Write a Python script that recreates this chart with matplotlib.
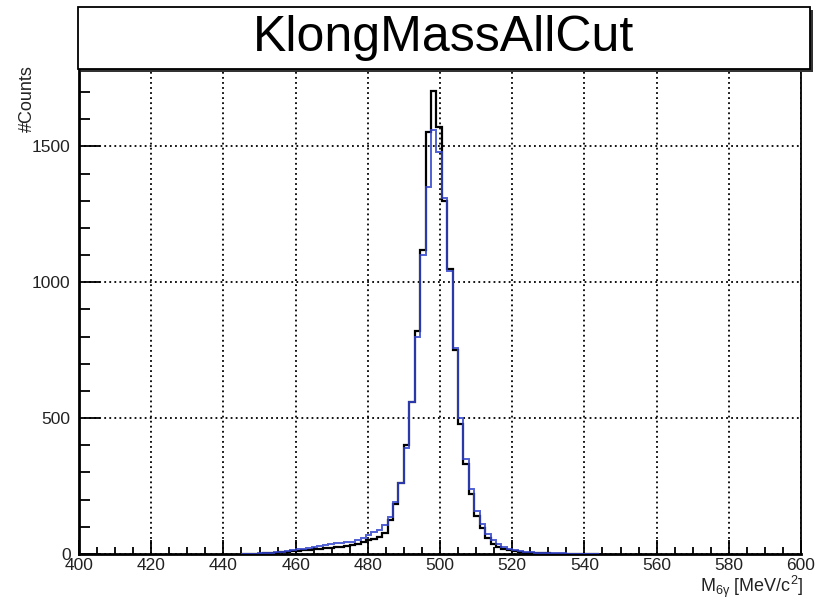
import numpy as np
import matplotlib
matplotlib.use("Agg")
import matplotlib.pyplot as plt
from matplotlib.patches import Rectangle
from matplotlib.ticker import MultipleLocator

plt.rcParams['font.family'] = ['Liberation Sans', 'DejaVu Sans']
plt.rcParams['mathtext.fontset'] = 'custom'
plt.rcParams['mathtext.rm'] = 'Liberation Sans'
plt.rcParams['mathtext.it'] = 'Liberation Sans:italic'

# ---------------- data ----------------
title = "KlongMassAllCut"
x_label = r"M$_{\mathregular{6γ}}$ [MeV/c$^{\mathregular{2}}$]"
y_label = "#Counts"

bin_lo = 445.0
bin_width = 1.5

data_counts = [0, 0, 0, 1, 2, 3, 5, 6, 8, 10,
               12, 14, 16, 17, 19, 21, 23, 25, 27, 30,
               33, 37, 43, 50, 55, 62, 78, 125, 185, 260,
               400, 560, 820, 1120, 1553, 1705, 1570, 1300, 1050, 750,
               480, 330, 220, 140, 95, 60, 38, 27, 19, 14,
               10, 7, 5, 4, 3, 2, 2, 1, 1, 1,
               0, 0, 0, 0, 0, 0]

mc_counts = [0, 0, 1, 2, 3, 5, 7, 9, 11, 14,
             17, 20, 23, 26, 29, 33, 36, 39, 41, 43,
             46, 52, 60, 70, 80, 88, 105, 137, 190, 260,
             390, 560, 800, 1100, 1350, 1560, 1480, 1310, 1040, 760,
             500, 350, 240, 160, 110, 75, 50, 35, 25, 18,
             14, 11, 9, 7, 5, 4, 3, 3, 2, 2,
             1, 1, 1, 0, 0, 0]

x_range = (400, 600)
y_max = 1785

# ---------------- figure ----------------
W, H = 819, 601
fig = plt.figure(figsize=(W / 100, H / 100), dpi=100)

ax_l, ax_r, ax_t, ax_b = 79, 801, 69, 554
ax = fig.add_axes([ax_l / W, 1 - ax_b / H, (ax_r - ax_l) / W, (ax_b - ax_t) / H])

edges = bin_lo + bin_width * np.arange(len(data_counts) + 1)
ax.stairs(data_counts, edges, color='black', lw=1.6, zorder=3)
ax.stairs(mc_counts, edges, color='#3344cc', lw=1.4, alpha=0.85, zorder=4)

ax.set_xlim(*x_range)
ax.set_ylim(0, y_max)

ax.xaxis.set_major_locator(MultipleLocator(20))
ax.xaxis.set_minor_locator(MultipleLocator(5))
ax.yaxis.set_major_locator(MultipleLocator(500))
ax.yaxis.set_minor_locator(MultipleLocator(100))

ax.grid(True, which='major', color='black', linestyle=(0, (1, 1.8)), lw=1.3)
ax.set_axisbelow(True)

ax.tick_params(axis='x', which='major', direction='in', length=10, width=1.3,
               labelsize=12.5, pad=3, top=False)
ax.tick_params(axis='x', which='minor', direction='in', length=5, width=1.3, top=False)
ax.tick_params(axis='y', which='major', direction='in', length=15, width=1.3,
               labelsize=12.5, pad=6, right=False)
ax.tick_params(axis='y', which='minor', direction='in', length=8, width=1.3, right=False)
for lab in ax.get_xticklabels() + ax.get_yticklabels():
    lab.set_color('#222222')

for s in ['left', 'bottom']:
    ax.spines[s].set_linewidth(2.0)
for s in ['top', 'right']:
    ax.spines[s].set_linewidth(1.3)

# axis titles
fig.text(27 / W, 1 - 65 / H, y_label, rotation=90, ha='center', va='top',
         fontsize=13, color='#222222')
fig.text(803 / W, 1 - 600 / H, x_label, ha='right', va='bottom',
         fontsize=13, color='#222222')

# title box with shadow
bx0, bx1, by0, by1 = 78, 810, 7, 69
sh = 3
fig.patches.append(Rectangle(((bx0 + sh) / W, 1 - (by1 + sh) / H), (bx1 - bx0) / W,
                             (by1 - by0) / H, transform=fig.transFigure,
                             facecolor='#333333', edgecolor='none', zorder=5))
fig.patches.append(Rectangle((bx0 / W, 1 - by1 / H), (bx1 - bx0) / W, (by1 - by0) / H,
                             transform=fig.transFigure, facecolor='white',
                             edgecolor='black', lw=1.3, zorder=6))
fig.text((bx0 + bx1) / 2 / W, 1 - (by0 + by1) / 2 / H, title, ha='center',
         va='center', fontsize=36, color='black', zorder=7)

fig.savefig("out.png", dpi=100)
